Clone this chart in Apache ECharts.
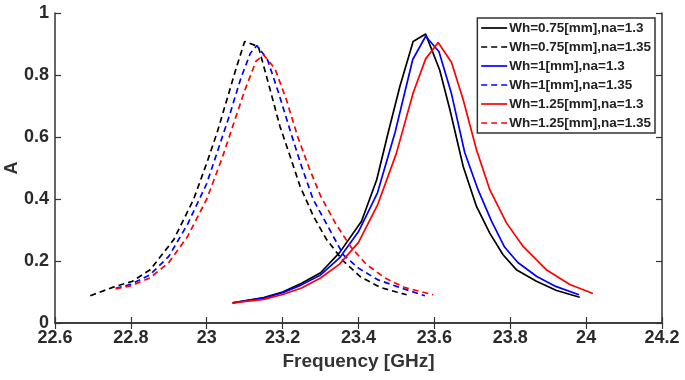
<!DOCTYPE html>
<html>
<head>
<meta charset="utf-8">
<script src="https://cdn.jsdelivr.net/npm/echarts@6/dist/echarts.min.js"></script>
<style>
html,body{margin:0;padding:0;background:#fff;}
#chart{width:685px;height:380px;}
</style>
</head>
<body>
<div id="chart"></div>
<script>
// 图例名称
var seriesNames = [
	'Wh=0.75[mm],na=1.3',
	'Wh=0.75[mm],na=1.35',
	'Wh=1[mm],na=1.3',
	'Wh=1[mm],na=1.35',
	'Wh=1.25[mm],na=1.3',
	'Wh=1.25[mm],na=1.35'
];
var seriesColors = ['#000000','#000000','#0000ff','#0000ff','#ff0000','#ff0000'];

// Wh=0.75, na=1.3
var freqBlackSolid = [23.068,23.15,23.2,23.25,23.3,23.35,23.408,23.448,23.478,23.509,23.544,23.577,23.614,23.641,23.676,23.711,23.746,23.781,23.816,23.869,23.922,23.983];
var ampBlackSolid  = [0.065,0.082,0.1,0.128,0.162,0.227,0.328,0.462,0.613,0.763,0.908,0.932,0.816,0.688,0.505,0.376,0.29,0.22,0.172,0.135,0.105,0.083];

// Wh=0.75, na=1.35
var freqBlackDash = [22.693,22.759,22.803,22.851,22.913,22.965,23.0,23.027,23.053,23.079,23.1,23.136,23.167,23.193,23.22,23.246,23.281,23.316,23.36,23.404,23.457,23.5,23.527];
var ampBlackDash  = [0.088,0.118,0.134,0.172,0.269,0.398,0.516,0.613,0.72,0.828,0.908,0.892,0.753,0.634,0.537,0.441,0.345,0.269,0.2,0.15,0.115,0.1,0.091];

// Wh=1, na=1.3
var freqBlueSolid = [23.068,23.15,23.2,23.25,23.3,23.35,23.4,23.45,23.496,23.543,23.577,23.612,23.645,23.68,23.715,23.75,23.785,23.82,23.87,23.92,23.981];
var ampBlueSolid  = [0.065,0.08,0.098,0.123,0.155,0.21,0.295,0.42,0.613,0.85,0.925,0.876,0.74,0.55,0.43,0.33,0.245,0.195,0.15,0.118,0.091];

// Wh=1, na=1.35
var freqBlueDash = [22.76,22.8,22.85,22.9,22.95,23.0,23.03,23.06,23.09,23.115,23.132,23.16,23.19,23.22,23.25,23.28,23.32,23.36,23.4,23.45,23.5,23.575];
var ampBlueDash  = [0.112,0.125,0.155,0.215,0.32,0.45,0.56,0.67,0.79,0.87,0.895,0.85,0.74,0.62,0.505,0.4,0.31,0.22,0.177,0.14,0.118,0.088];

// Wh=1.25, na=1.3
var freqRedSolid = [23.068,23.15,23.2,23.25,23.3,23.35,23.4,23.45,23.5,23.544,23.577,23.61,23.645,23.676,23.711,23.746,23.79,23.834,23.895,23.957,24.018];
var ampRedSolid  = [0.065,0.076,0.092,0.113,0.145,0.19,0.26,0.38,0.548,0.742,0.852,0.905,0.841,0.72,0.559,0.43,0.323,0.247,0.172,0.124,0.095];

// Wh=1.25, na=1.35
var freqRedDash = [22.76,22.8,22.85,22.9,22.95,23.0,23.04,23.07,23.1,23.13,23.15,23.18,23.21,23.24,23.27,23.3,23.34,23.38,23.42,23.47,23.52,23.597];
var ampRedDash  = [0.11,0.12,0.145,0.195,0.28,0.4,0.53,0.64,0.75,0.845,0.865,0.82,0.72,0.6,0.5,0.41,0.32,0.245,0.19,0.145,0.115,0.091];

var xTicks = [22.6,22.8,23,23.2,23.4,23.6,23.8,24,24.2];
var yTicks = [0,0.2,0.4,0.6,0.8,1];

var allFreq = [freqBlackSolid,freqBlackDash,freqBlueSolid,freqBlueDash,freqRedSolid,freqRedDash];
var allAmp  = [ampBlackSolid,ampBlackDash,ampBlueSolid,ampBlueDash,ampRedSolid,ampRedDash];

function zip(xs, ys){
	var out = [];
	for(var i=0;i<xs.length;i++){
		out.push([xs[i], ys[i]]);
	}
	return out;
}

var seriesList = [];
for(var i=0;i<seriesNames.length;i++){
	var dashed = (i % 2 == 1);
	seriesList.push({
		name: seriesNames[i],
		type: 'line',
		data: zip(allFreq[i], allAmp[i]),
		symbol: 'none',
		smooth: false,
		lineStyle: {
			color: seriesColors[i],
			width: 1.7,
			type: dashed ? [6,4] : 'solid'
		},
		itemStyle: {color: seriesColors[i]}
	});
}

var fontFam = '"Liberation Sans", Arial, sans-serif';
var frameColor = '#333';
var tickLabelStyle = {fontFamily: fontFam, fontWeight: 'bold', fontSize: 18, color: '#2a2a2a'};

var chart = echarts.init(document.getElementById('chart'));
var option = {
	animation: false,
	grid: {left: 55, right: 23, top: 13, bottom: 57, outerBoundsMode: 'none', containLabel: false},
	legend: {
		data: seriesNames,
		orient: 'vertical',
		right: 30,
		top: 18,
		itemWidth: 26,
		itemHeight: 12,
		itemGap: 5,
		padding: [3,4,3,3],
		borderColor: '#333',
		borderWidth: 1.5,
		backgroundColor: '#fff',
		itemStyle: {opacity: 0},
		lineStyle: {width: 1.7},
		textStyle: {
			fontFamily: fontFam,
			fontWeight: 'bold',
			fontSize: 13.5,
			color: '#222',
			padding: [0,0,0,-3]
		}
	},
	xAxis: [{
		type: 'value',
		min: 22.6,
		max: 24.2,
		interval: 0.2,
		name: 'Frequency [GHz]',
		nameLocation: 'middle',
		nameGap: 29,
		nameMoveOverlap: false,
		nameTextStyle: {fontFamily: fontFam, fontWeight: 'bold', fontSize: 19, color: '#333', verticalAlign: 'top'},
		axisLine: {lineStyle: {color: frameColor, width: 1.5}},
		axisTick: {inside: true, length: 6, lineStyle: {color: frameColor, width: 1.2}},
		axisLabel: Object.assign({margin: 6}, tickLabelStyle),
		splitLine: {show: false}
	},{
		type: 'value',
		position: 'top',
		min: 22.6,
		max: 24.2,
		interval: 0.2,
		axisLine: {show: true, lineStyle: {color: frameColor, width: 1.5}},
		axisTick: {inside: true, length: 6, lineStyle: {color: frameColor, width: 1.2}},
		axisLabel: {show: false},
		splitLine: {show: false}
	}],
	yAxis: [{
		type: 'value',
		min: 0,
		max: 1,
		interval: 0.2,
		name: 'A',
		nameLocation: 'middle',
		nameGap: 34,
		nameMoveOverlap: false,
		nameTextStyle: {fontFamily: fontFam, fontWeight: 'bold', fontSize: 18, color: '#333'},
		axisLine: {show: true, lineStyle: {color: frameColor, width: 1.5}},
		axisTick: {show: true, inside: true, length: 6, lineStyle: {color: frameColor, width: 1.2}},
		axisLabel: Object.assign({margin: 6}, tickLabelStyle),
		splitLine: {show: false}
	},{
		type: 'value',
		position: 'right',
		min: 0,
		max: 1,
		interval: 0.2,
		axisLine: {show: true, lineStyle: {color: frameColor, width: 1.5}},
		axisTick: {show: true, inside: true, length: 6, lineStyle: {color: frameColor, width: 1.2}},
		axisLabel: {show: false},
		splitLine: {show: false}
	}],
	series: seriesList
};
chart.setOption(option);
</script>
</body>
</html>
